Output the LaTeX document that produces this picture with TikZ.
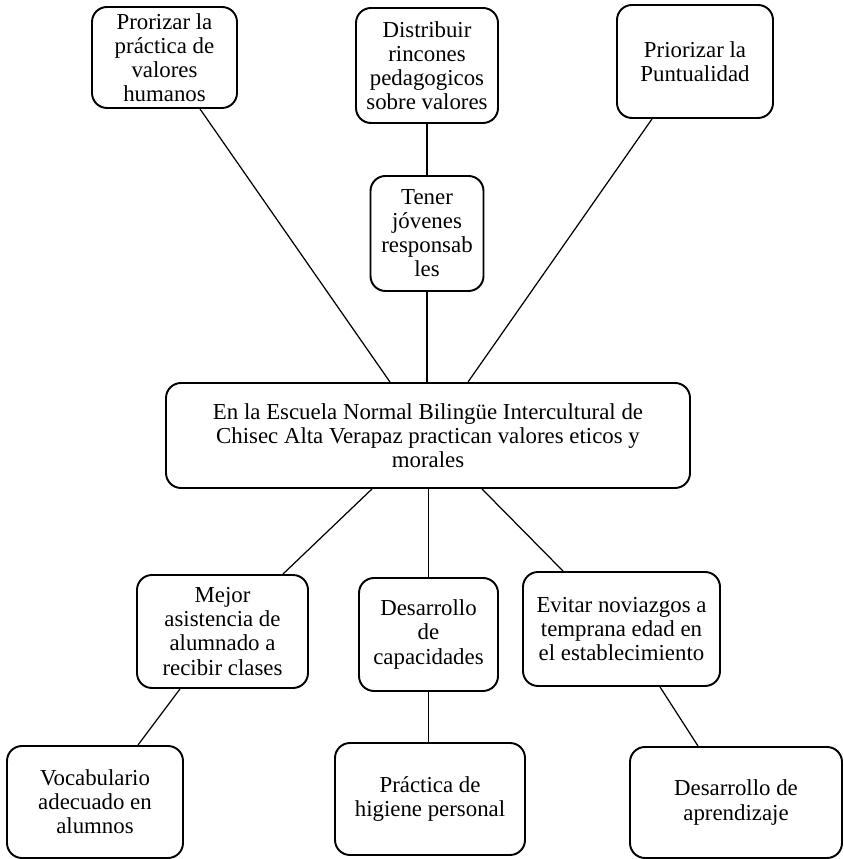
\documentclass[tikz,border=0pt]{standalone}
\usepackage{fontspec}
\setmainfont{Liberation Serif}
\usepackage{tikz}
\usetikzlibrary{positioning}

\begin{document}
\begin{tikzpicture}
        \useasboundingbox (0,0) rectangle (16.86,17.18);
        \begin{scope}[every node/.style={draw,line width=1.1pt,rounded corners=0.3cm,align=center,inner sep=2pt,font=\fontsize{13}{13.7}\selectfont}]
          % fila superior
          \node[minimum width=2.90cm,minimum height=2.02cm] (prorizar) at (3.29,16.03) {Prorizar la\\práctica de\\valores\\humanos};
          \node[minimum width=2.84cm,minimum height=2.30cm] (distribuir) at (8.54,15.87) {Distribuir\\rincones\\pedagogicos\\sobre valores};
          \node[minimum width=3.12cm,minimum height=2.26cm] (priorizar) at (13.90,15.95) {Priorizar la\\Puntualidad};
          \node[minimum width=2.26cm,minimum height=2.30cm] (tener) at (8.54,12.51) {Tener\\jóvenes\\responsab\\les};
          % centro
          \node[minimum width=10.48cm,minimum height=2.10cm] (centro) at (8.56,8.47) {En la Escuela Normal Bilingüe Intercultural de\\Chisec Alta Verapaz practican valores eticos y\\morales};
          % fila inferior
          \node[minimum width=3.42cm,minimum height=2.26cm] (mejor) at (4.45,4.55) {Mejor\\asistencia de\\alumnado a\\recibir clases};
          \node[minimum width=2.78cm,minimum height=2.26cm] (capacidades) at (8.57,4.49) {Desarrollo\\de\\capacidades};
          \node[minimum width=3.94cm,minimum height=2.28cm] (evitar) at (12.43,4.60) {Evitar noviazgos a\\temprana edad en\\el establecimiento};
          \node[minimum width=3.52cm,minimum height=2.24cm] (vocabulario) at (1.90,1.14) {Vocabulario\\adecuado en\\alumnos};
          \node[minimum width=3.80cm,minimum height=2.24cm] (practica) at (8.60,1.20) {Práctica de\\higiene personal};
          \node[minimum width=4.24cm,minimum height=2.22cm] (aprendizaje) at (14.72,1.13) {Desarrollo de\\aprendizaje};
        \end{scope}
        \begin{scope}[every edge/.style={draw=black,line width=0.7pt}]
          \path ([xshift=0.71cm]prorizar.south) edge ([xshift=-0.76cm]centro.north);
          \path (distribuir) edge (tener);
          \path (tener.south) edge (tener.south |- centro.north);
          \path ([xshift=-0.86cm]priorizar.south) edge ([xshift=0.80cm]centro.north);
          \path ([xshift=-1.12cm]centro.south) edge ([xshift=1.21cm]mejor.north);
          \path (capacidades.north) edge (capacidades.north |- centro.south);
          \path ([xshift=1.08cm]centro.south) edge ([xshift=-1.17cm]evitar.north);
          \path ([xshift=-0.85cm]mejor.south) edge ([xshift=0.86cm]vocabulario.north);
          \path (capacidades.south) edge (capacidades.south |- practica.north);
          \path ([xshift=0.77cm]evitar.south) edge ([xshift=-0.76cm]aprendizaje.north);
        \end{scope}
      \end{tikzpicture}
\end{document}
